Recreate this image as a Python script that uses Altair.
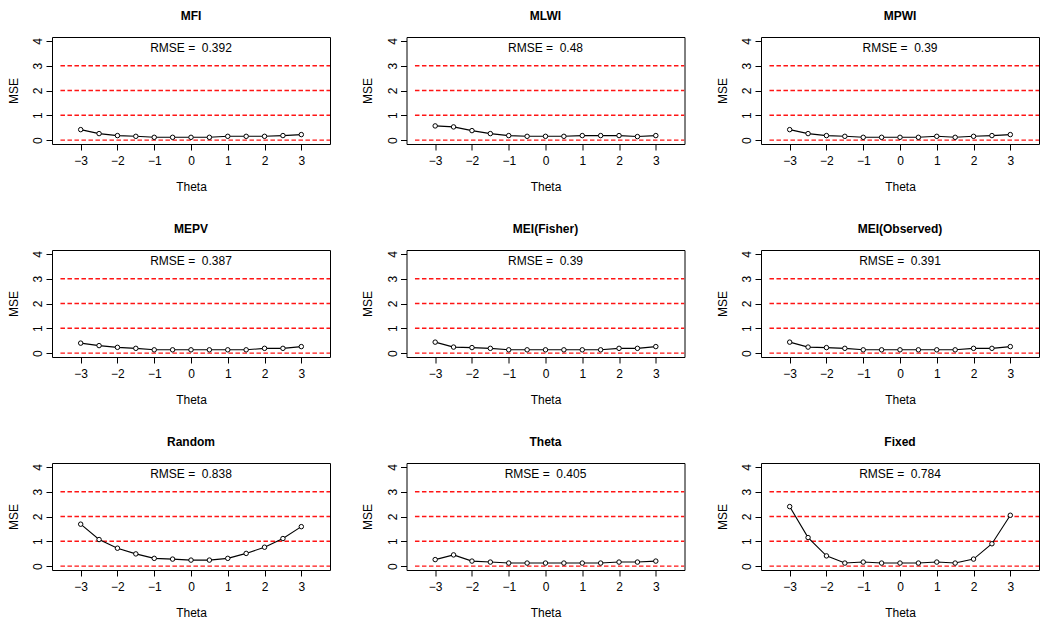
import altair as alt
import pandas as pd

theta = [-3, -2.5, -2, -1.5, -1, -0.5, 0, 0.5, 1, 1.5, 2, 2.5, 3]
methods = ["MFI", "MLWI", "MPWI", "MEPV", "MEI(Fisher)", "MEI(Observed)", "Random", "Theta", "Fixed"]
rmse = ["0.392", "0.48", "0.39", "0.387", "0.39", "0.391", "0.838", "0.405", "0.784"]

mse_mfi = [0.42, 0.26, 0.18, 0.15, 0.11, 0.11, 0.11, 0.11, 0.15, 0.15, 0.15, 0.18, 0.22]
mse_mlwi = [0.57, 0.53, 0.38, 0.26, 0.18, 0.15, 0.15, 0.15, 0.18, 0.18, 0.18, 0.14, 0.18]
mse_mpwi = [0.42, 0.26, 0.18, 0.15, 0.11, 0.11, 0.11, 0.11, 0.15, 0.11, 0.15, 0.18, 0.22]
mse_mepv = [0.40, 0.30, 0.23, 0.19, 0.13, 0.13, 0.13, 0.13, 0.13, 0.13, 0.19, 0.19, 0.26]
mse_fisher = [0.44, 0.24, 0.22, 0.19, 0.13, 0.13, 0.13, 0.13, 0.13, 0.13, 0.19, 0.19, 0.26]
mse_observed = [0.44, 0.24, 0.22, 0.19, 0.13, 0.13, 0.13, 0.13, 0.13, 0.13, 0.19, 0.19, 0.26]
mse_random = [1.69, 1.07, 0.72, 0.49, 0.31, 0.28, 0.24, 0.24, 0.31, 0.51, 0.76, 1.11, 1.59]
mse_theta = [0.26, 0.45, 0.20, 0.16, 0.12, 0.12, 0.12, 0.12, 0.12, 0.12, 0.16, 0.16, 0.20]
mse_fixed = [2.40, 1.15, 0.41, 0.12, 0.16, 0.12, 0.12, 0.12, 0.16, 0.12, 0.28, 0.90, 2.05]

series = [mse_mfi, mse_mlwi, mse_mpwi, mse_mepv, mse_fisher, mse_observed,
          mse_random, mse_theta, mse_fixed]

ref_levels = [0, 1, 2, 3]
ref_x_start = -3.55
ref_x_end = 3.78
x_ticks = [-3, -2, -1, 0, 1, 2, 3]
y_ticks = [0, 1, 2, 3, 4]
x_domain = [-3.78, 3.78]
y_domain = [-0.16, 4.16]
label_x = 0
label_y = 3.72

FONT = "Liberation Sans"
W, H = 278, 107

xscale = alt.Scale(domain=x_domain, nice=False, zero=False)
yscale = alt.Scale(domain=y_domain, nice=False, zero=False)

xaxis = alt.Axis(values=x_ticks, format="d", title="Theta", domain=False, grid=False,
                 ticks=True, tickColor="black", tickSize=6, tickWidth=1,
                 labelPadding=5, labelFont=FONT, labelFontSize=12, labelColor="black",
                 labelFlush=False, labelOverlap=False,
                 titleFont=FONT, titleFontSize=12, titleFontWeight="normal", titleColor="black",
                 titleX=W / 2, titleY=46, titleAlign="center", titleBaseline="alphabetic")
yaxis = alt.Axis(values=y_ticks, format="d", title="MSE", domain=False, grid=False,
                 ticks=True, tickColor="black", tickSize=6, tickWidth=1,
                 labelPadding=4.5, labelFont=FONT, labelFontSize=12, labelColor="black",
                 labelAngle=270, labelAlign="center", labelBaseline="alphabetic",
                 labelFlush=False, labelOverlap=False,
                 titleFont=FONT, titleFontSize=12, titleFontWeight="normal", titleColor="black",
                 titleAngle=270, titleX=-35, titleY=H / 2, titleAlign="center",
                 titleBaseline="alphabetic")


def panel(name, vals, r):
    df = pd.DataFrame({"theta": theta, "mse": vals})
    ref = pd.DataFrame({"level": ref_levels,
                        "xs": [ref_x_start] * len(ref_levels),
                        "xe": [ref_x_end] * len(ref_levels)})
    base = alt.Chart(df)
    rules = alt.Chart(ref).mark_rule(color="#ff1414", strokeWidth=1.3, strokeDash=[4.5, 2.5],
                                     clip=True).encode(
        x=alt.X("xs:Q", scale=xscale, axis=xaxis),
        x2="xe:Q",
        y=alt.Y("level:Q", scale=yscale, axis=yaxis),
    )
    line = base.mark_line(color="black", strokeWidth=1.1).encode(
        x=alt.X("theta:Q", scale=xscale, axis=xaxis),
        y=alt.Y("mse:Q", scale=yscale, axis=yaxis),
    )
    pts = base.mark_point(shape="circle", filled=True, fill="white", stroke="black",
                          strokeWidth=1, size=20, opacity=1).encode(
        x=alt.X("theta:Q", scale=xscale, axis=xaxis),
        y=alt.Y("mse:Q", scale=yscale, axis=yaxis),
    )
    txt = alt.Chart(pd.DataFrame({"t": ["RMSE = \u00a0" + r]})).mark_text(
        font=FONT, fontSize=12, color="black", align="center", baseline="middle").encode(
        x=alt.XDatum(label_x, scale=xscale, axis=xaxis),
        y=alt.YDatum(label_y, scale=yscale, axis=yaxis),
        text="t:N")
    return alt.layer(rules, line, pts, txt).properties(
        width=W, height=H,
        title=alt.TitleParams(name, font=FONT, fontSize=12, fontWeight="bold", color="black",
                              anchor="middle", frame="group", baseline="alphabetic",
                              offset=5.5))


panels = [panel(m, s, r) for m, s, r in zip(methods, series, rmse)]

chart = alt.concat(*panels, columns=3, spacing={"row": 106, "column": 76.5},
                   bounds="flush").properties(
    padding={"left": -2, "top": 1, "right": 0, "bottom": 0},
    background="white",
).configure_view(stroke="black", strokeWidth=1)

chart.save("out.html", embed_options={"renderer": "svg", "actions": False})
